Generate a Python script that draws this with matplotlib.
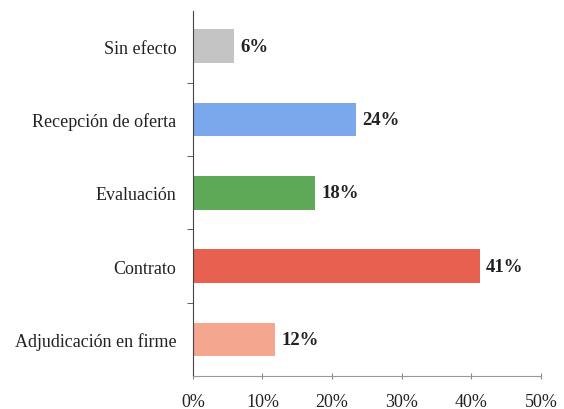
import matplotlib.pyplot as plt
from matplotlib.ticker import FixedLocator

# Datos (porcentajes por etapa)
etapas = ['Adjudicación en firme', 'Contrato', 'Evaluación', 'Recepción de oferta', 'Sin efecto']
valores = [11.8, 41.2, 17.6, 23.5, 5.9]
etiquetas = ['12%', '41%', '18%', '24%', '6%']
colores = ['#f5a68f', '#e8604f', '#5ea958', '#7ba7ec', '#c4c4c4']
ticks_x = [0, 10, 20, 30, 40, 50]
ticks_x_txt = ['0%', '10%', '20%', '30%', '40%', '50%']

plt.rcParams['font.family'] = ['Liberation Serif', 'DejaVu Serif']

fig = plt.figure(figsize=(5.64, 4.10), dpi=100)
ax = fig.add_axes([0.342, 0.080, 0.617, 0.891])

pos = list(range(len(etapas)))
barras = ax.barh(pos, valores, height=0.46, color=colores)

# etiquetas de valor al final de cada barra
for b, txt in zip(barras, etiquetas):
    ax.text(b.get_width() + 0.9, b.get_y() + b.get_height() / 2, txt,
            va='center', ha='left', fontsize=13.5, fontweight='bold', color='#222222')

ax.set_xlim(0, 50)
ax.set_ylim(-0.5, 4.48)
ax.set_yticks(pos)
ax.set_yticklabels(etapas, fontsize=13, color='#222222')
ax.yaxis.set_minor_locator(FixedLocator([0.5, 1.5, 2.5, 3.5]))
ax.tick_params(axis='y', which='major', length=0, pad=12)
ax.tick_params(axis='y', which='minor', length=4, color='#444444')

ax.set_xticks(ticks_x)
ax.set_xticklabels(ticks_x_txt, fontsize=13, color='#222222')
ax.tick_params(axis='x', length=4, direction='inout', color='#888888', pad=10)

ax.spines['top'].set_visible(False)
ax.spines['right'].set_visible(False)
ax.spines['left'].set_color('#444444')
ax.spines['bottom'].set_color('#999999')

fig.savefig('out.png', dpi=100)
